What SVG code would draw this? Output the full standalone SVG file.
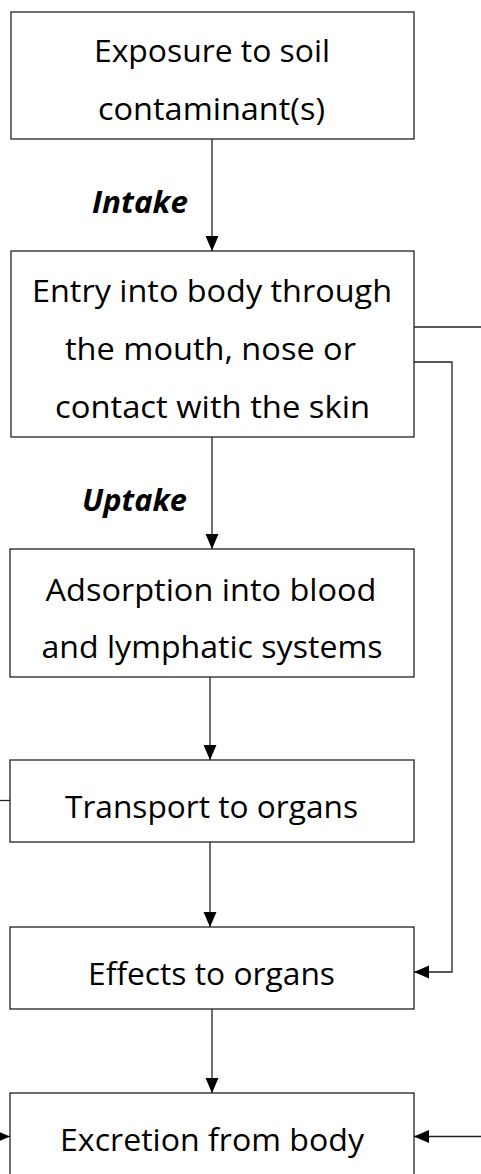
<svg xmlns="http://www.w3.org/2000/svg" width="481" height="1174" viewBox="0 0 481 1174">
<style>
.box{fill:#fff;stroke:#222;stroke-width:1.3}
.t{font-family:"Open Sans","Noto Sans",sans-serif;font-size:31px;fill:#000;text-anchor:middle}
.lbl{font-family:"Open Sans","Noto Sans",sans-serif;font-size:30px;font-weight:bold;font-style:italic;fill:#000}
.c{fill:none;stroke:#222;stroke-width:1.3}
</style>
<defs>
<marker id="ah" markerUnits="userSpaceOnUse" markerWidth="16" markerHeight="14" refX="15" refY="6.5" orient="auto">
<path d="M0,0 L15,6.5 L0,13 Z" fill="#000"/>
</marker>
</defs>
<rect width="481" height="1174" fill="#fff"/>
<g id="connectors">
<line class="c" x1="212" y1="139" x2="212" y2="251" marker-end="url(#ah)"/>
<line class="c" x1="212" y1="437" x2="212" y2="549" marker-end="url(#ah)"/>
<line class="c" x1="210" y1="677" x2="210" y2="760" marker-end="url(#ah)"/>
<line class="c" x1="210" y1="842" x2="210" y2="927" marker-end="url(#ah)"/>
<line class="c" x1="212" y1="1009" x2="212" y2="1093" marker-end="url(#ah)"/>
<line class="c" x1="414" y1="327" x2="481" y2="327"/>
<polyline class="c" points="414,362 452,362 452,972 414,972" marker-end="url(#ah)"/>
<line class="c" x1="481" y1="1136.5" x2="414" y2="1136.5" marker-end="url(#ah)"/>
<line class="c" x1="0" y1="800.5" x2="10" y2="800.5"/>
<line class="c" x1="-10" y1="1136.5" x2="10" y2="1136.5" marker-end="url(#ah)"/>
<text class="lbl" x="92" y="213" textLength="96" lengthAdjust="spacingAndGlyphs">Intake</text>
<text class="lbl" x="82" y="511" textLength="105" lengthAdjust="spacingAndGlyphs">Uptake</text>
</g>
<g id="n1">
<rect class="box" x="11" y="12" width="403" height="127"/>
<text class="t" x="212" y="62" textLength="236" lengthAdjust="spacingAndGlyphs">Exposure to soil</text>
<text class="t" x="211.5" y="120" textLength="227" lengthAdjust="spacingAndGlyphs">contaminant(s)</text>
</g>
<g id="n2">
<rect class="box" x="11" y="251" width="403" height="186"/>
<text class="t" x="212" y="302" textLength="360" lengthAdjust="spacingAndGlyphs">Entry into body through</text>
<text class="t" x="210.5" y="359.5" textLength="291" lengthAdjust="spacingAndGlyphs">the mouth, nose or</text>
<text class="t" x="212.5" y="417.5" textLength="315" lengthAdjust="spacingAndGlyphs">contact with the skin</text>
</g>
<g id="n3">
<rect class="box" x="10" y="549" width="404" height="128"/>
<text class="t" x="211" y="600.5" textLength="331" lengthAdjust="spacingAndGlyphs">Adsorption into blood</text>
<text class="t" x="212" y="657.5" textLength="341" lengthAdjust="spacingAndGlyphs">and lymphatic systems</text>
</g>
<g id="n4">
<rect class="box" x="10" y="760" width="404" height="82"/>
<text class="t" x="211.5" y="817.5" textLength="293" lengthAdjust="spacingAndGlyphs">Transport to organs</text>
</g>
<g id="n5">
<rect class="box" x="10" y="927" width="404" height="82"/>
<text class="t" x="211.5" y="984.5" textLength="247" lengthAdjust="spacingAndGlyphs">Effects to organs</text>
</g>
<g id="n6">
<rect class="box" x="10" y="1093" width="404" height="120"/>
<text class="t" x="212" y="1150.5" textLength="304" lengthAdjust="spacingAndGlyphs">Excretion from body</text>
</g>
</svg>
